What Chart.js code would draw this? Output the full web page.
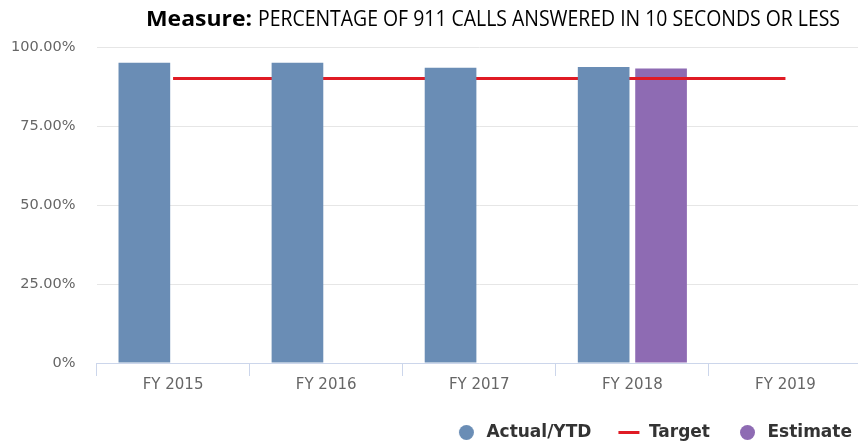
<!DOCTYPE html>
<html>
<head>
<meta charset="utf-8">
<script src="https://cdn.jsdelivr.net/npm/chart.js@4/dist/chart.umd.min.js"></script>
<style>
html,body{margin:0;padding:0;background:#fff;overflow:hidden;}
#wrap{position:relative;width:858px;height:442px;overflow:hidden;}
#c{position:absolute;left:-10px;top:0;}
</style>
</head>
<body>
<div id="wrap"><canvas id="c" width="883" height="451"></canvas></div>
<script>
const categories = ['FY 2015', 'FY 2016', 'FY 2017', 'FY 2018', 'FY 2019'];
const actualValues = [95.0, 95.0, 93.4, 93.7, null];
const targetValues = [90, 90, 90, 90, 90];
const estimateValues = [null, null, null, 93.2, null];
const yTickLabels = ['0%', '25.00%', '50.00%', '75.00%', '100.00%'];
const titleBold = 'Measure:';
const titleRest = 'PERCENTAGE OF 911 CALLS ANSWERED IN 10 SECONDS OR LESS';

const BLUE = '#6a8db5';
const PURPLE = '#8e6bb3';
const RED = '#e01b24';
const SHIFT = 10;

function makeIcon(kind, color) {
  const cv = document.createElement('canvas');
  cv.width = 23; cv.height = 17;
  const g = cv.getContext('2d');
  g.fillStyle = color;
  if (kind === 'circle') {
    g.beginPath(); g.arc(11.5, 8.5, 7.5, 0, Math.PI * 2); g.fill();
  } else {
    g.fillRect(1, 7, 21, 3);
  }
  return cv;
}
const icons = [makeIcon('circle', BLUE), makeIcon('line', RED), makeIcon('circle', PURPLE)];

const titlePlugin = {
  id: 'mixedTitle',
  afterLayout(chart) {
    if (chart.legend) { chart.legend.left += 16; chart.legend.right += 16; }
  },
  afterDraw(chart) {
    const ctx = chart.ctx;
    ctx.save();
    ctx.textBaseline = 'alphabetic';
    ctx.fillStyle = '#000';
    ctx.font = 'bold 21px "Open Sans"';
    let w = ctx.measureText(titleBold).width;
    ctx.save(); ctx.translate(146 + SHIFT, 26); ctx.scale(106 / w, 1); ctx.fillText(titleBold, 0, 0); ctx.restore();
    ctx.font = '21px "Open Sans"';
    w = ctx.measureText(titleRest).width;
    ctx.save(); ctx.translate(258 + SHIFT, 26); ctx.scale(582 / w, 1); ctx.fillText(titleRest, 0, 0); ctx.restore();
    ctx.restore();
  }
};

new Chart(document.getElementById('c'), {
  type: 'bar',
  data: {
    labels: categories,
    datasets: [
      { label: 'Actual/YTD', type: 'bar', data: actualValues, backgroundColor: BLUE, order: 0,
        categoryPercentage: 0.75, barPercentage: 0.9 },
      { label: 'Target', type: 'line', data: targetValues, borderColor: RED, backgroundColor: RED,
        borderWidth: 3, pointRadius: 0, fill: false, order: 1 },
      { label: 'Estimate', type: 'bar', data: estimateValues, backgroundColor: PURPLE, order: 2,
        categoryPercentage: 0.75, barPercentage: 0.9 }
    ]
  },
  options: {
    responsive: false,
    devicePixelRatio: 1,
    animation: false,
    layout: { padding: { top: 47, right: 11, left: 0, bottom: 0 } },
    plugins: {
      tooltip: { enabled: false },
      legend: {
        position: 'bottom',
        align: 'end',
        labels: {
          usePointStyle: true,
          pointStyleWidth: 23,
          boxHeight: 17,
          padding: 26,
          color: '#333',
          font: { family: '"DejaVu Sans"', size: 17, weight: 'bold' },
          generateLabels(chart) {
            const items = Chart.defaults.plugins.legend.labels.generateLabels(chart);
            items.forEach((it) => { it.pointStyle = icons[it.datasetIndex]; });
            return items;
          }
        }
      }
    },
    scales: {
      x: {
        offset: true,
        afterFit(scale) { scale.height += 4; },
        grid: { display: true, drawOnChartArea: false, drawTicks: true, tickLength: 13, color: '#ccd6eb', offset: true },
        border: { display: true, color: '#ccd6eb' },
        ticks: { color: '#666', font: { family: '"DejaVu Sans"', size: 15 }, padding: 0 }
      },
      y: {
        min: 0, max: 100,
        ticks: { stepSize: 25, color: '#666', padding: 21, font: { family: '"DejaVu Sans"', size: 14.5 },
          callback: (v, i) => yTickLabels[i] },
        grid: { color: '#e6e6e6', drawTicks: false },
        border: { display: false }
      }
    }
  },
  plugins: [titlePlugin]
});
</script>
</body>
</html>
